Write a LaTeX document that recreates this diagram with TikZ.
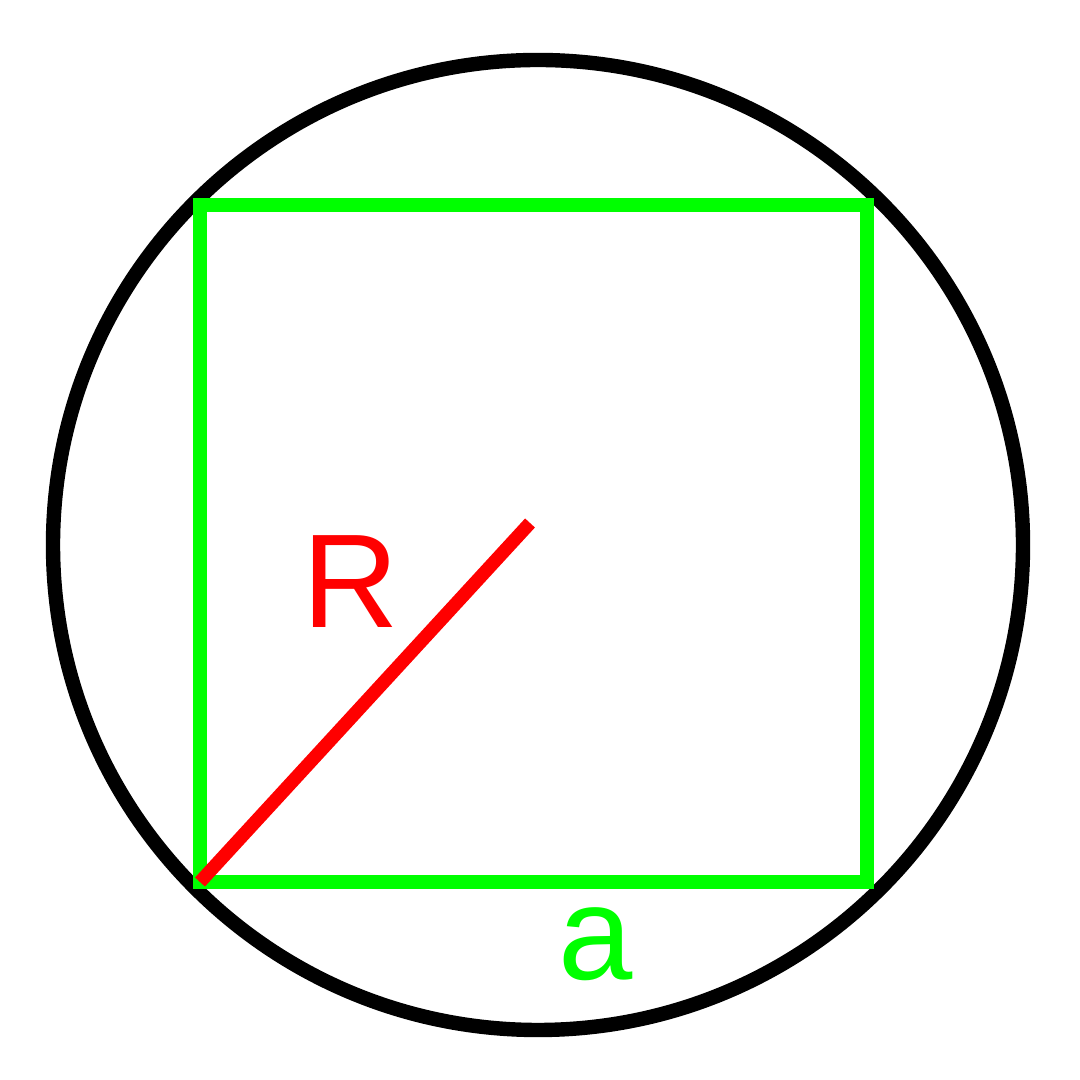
\documentclass[tikz,border=0pt]{standalone}
\usepackage{fontspec}
\setmainfont{Liberation Sans}
\definecolor{sqGreen}{HTML}{00FF00}
\definecolor{radRed}{HTML}{FF0000}
\usetikzlibrary{positioning}

\begin{document}
\begin{tikzpicture}[
  every node/.style={font=\fontsize{38}{40}\selectfont, inner sep=0pt},
  edge/.style={line width=3.8pt}]
  \useasboundingbox (0,0) rectangle (10.8,10.8);
  % Circle
  \draw[edge, black, line width=4.1pt] (5.38,5.35) circle (4.85);
  % Square
  \coordinate (sqSW) at (2.00,1.98);
  \coordinate (sqNE) at (8.67,8.75);
  \draw[edge, sqGreen] (sqSW) rectangle (sqNE);
  % Radius
  \coordinate (radEnd) at (5.30,5.57);
  \draw[edge, radRed] (sqSW) -- (radEnd);
  % Labels
  \node[radRed, anchor=base] (labR) at (3.51,4.52) {R};
  \node[sqGreen, anchor=base] (labA) at (5.96,1.00) {a};
\end{tikzpicture}
\end{document}
